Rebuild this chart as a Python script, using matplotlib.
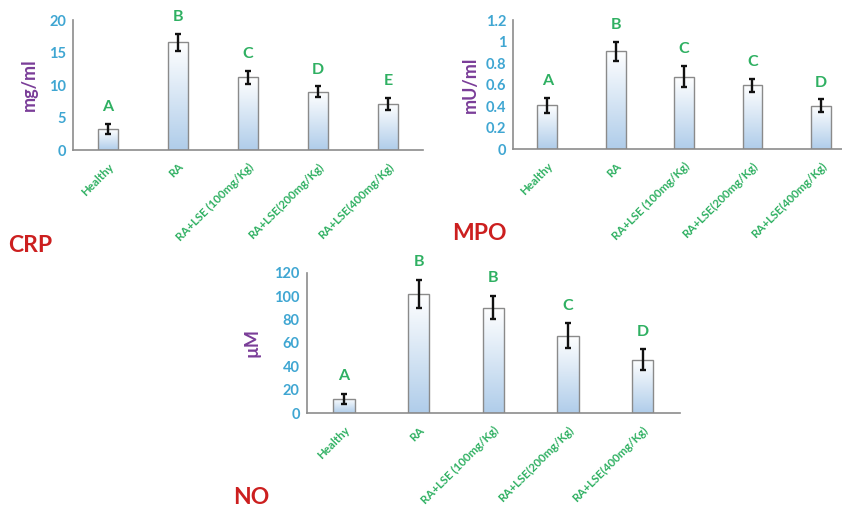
import numpy as np
import matplotlib.pyplot as plt
from matplotlib.colors import LinearSegmentedColormap

plt.rcParams['font.family'] = ['Lato', 'DejaVu Sans']
plt.rcParams['font.weight'] = 'bold'

# data
groups = ['Healthy', 'RA', 'RA+LSE (100mg/Kg)', 'RA+LSE(200mg/Kg)', 'RA+LSE(400mg/Kg)']

crp_mean = [3.2, 16.6, 11.2, 9.0, 7.1]
crp_err = [0.8, 1.3, 1.0, 0.8, 0.9]
crp_letters = ['A', 'B', 'C', 'D', 'E']
crp_ticks = [0, 5, 10, 15, 20]

mpo_mean = [0.41, 0.91, 0.675, 0.595, 0.405]
mpo_err = [0.07, 0.09, 0.10, 0.06, 0.06]
mpo_letters = ['A', 'B', 'C', 'C', 'D']
mpo_ticks = [0, 0.2, 0.4, 0.6, 0.8, 1, 1.2]

no_mean = [12.2, 101.8, 90.1, 66.0, 45.7]
no_err = [4.3, 12.2, 10.0, 10.7, 8.8]
no_letters = ['A', 'B', 'B', 'C', 'D']
no_ticks = [0, 20, 40, 60, 80, 100, 120]

BLUE = '#3fa6d2'
GREEN = '#2fb062'
PURPLE = '#7a3d98'
RED = '#cc1f1f'

grad = LinearSegmentedColormap.from_list('g', ['#b0cdea', '#ffffff'])


def panel(ax, means, errs, letters, ticks, ylabel, letter_gap, label_pad):
    x = np.arange(len(groups))
    top = ticks[-1]
    bars = ax.bar(x, means, width=0.29, color='none', edgecolor='#8a8a8a',
                  linewidth=1.0, zorder=3)
    for b in bars:
        x0, y0 = b.get_x(), b.get_y()
        im = ax.imshow(np.linspace(0, 1, 100).reshape(-1, 1), cmap=grad,
                       aspect='auto', origin='lower',
                       extent=[x0, x0 + b.get_width(), y0, y0 + b.get_height()],
                       zorder=2)
        im.set_clip_path(b)
    ax.errorbar(x, means, yerr=errs, fmt='none', ecolor='#111111',
                elinewidth=1.7, capsize=2.2, capthick=1.7, zorder=4)
    for xi, m, e, let in zip(x, means, errs, letters):
        ax.text(xi, m + e + letter_gap, let, ha='center', va='bottom',
                color=GREEN, fontsize=11.5, fontweight='bold')
    ax.set_xlim(-0.5, len(groups) - 0.5)
    ax.set_ylim(0, top)
    ax.set_yticks(ticks)
    ax.set_yticklabels([f'{t:g}' for t in ticks], color=BLUE, fontsize=10.5,
                       fontweight='bold')
    ax.set_xticks(x)
    ax.set_xticklabels(groups, rotation=45, ha='right', rotation_mode='anchor',
                       color=GREEN, fontsize=8.3, fontweight='bold')
    ax.tick_params(axis='both', length=0)
    ax.tick_params(axis='x', pad=8)
    ax.tick_params(axis='y', pad=5)
    for s in ['top', 'right']:
        ax.spines[s].set_visible(False)
    for s in ['left', 'bottom']:
        ax.spines[s].set_color('#8c8c8c')
        ax.spines[s].set_linewidth(1.2)
    ax.set_ylabel(ylabel, color=PURPLE, fontsize=13, fontweight='bold',
                  labelpad=label_pad)
    ax.set_facecolor('none')


fig = plt.figure(figsize=(8.42, 5.09), dpi=100)

ax1 = fig.add_axes([0.0867, 0.7053, 0.4157, 0.2554])
panel(ax1, crp_mean, crp_err, crp_letters, crp_ticks, 'mg/ml', 1.5, 8)

ax2 = fig.add_axes([0.6093, 0.7063, 0.4062, 0.2544])
panel(ax2, mpo_mean, mpo_err, mpo_letters, mpo_ticks, 'mU/ml', 0.09, 5)

ax3 = fig.add_axes([0.3642, 0.188, 0.4434, 0.2763])
panel(ax3, no_mean, no_err, no_letters, no_ticks, 'µM', 9, 10)

fig.text(0.01, 0.518, 'CRP', color=RED, fontsize=16.5, fontweight='bold', va='center')
fig.text(0.537, 0.542, 'MPO', color=RED, fontsize=16.5, fontweight='bold', va='center')
fig.text(0.277, 0.022, 'NO', color=RED, fontsize=16.5, fontweight='bold', va='center')

fig.savefig('out.png', dpi=100)
